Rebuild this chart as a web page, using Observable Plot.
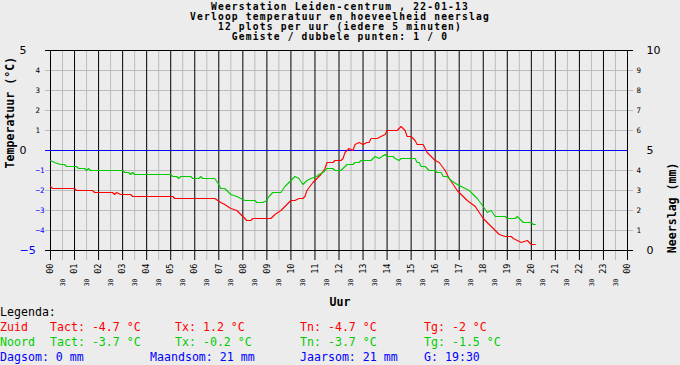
<!DOCTYPE html>
<html>
<head>
<meta charset="utf-8">
<script src="https://cdn.jsdelivr.net/npm/d3@7"></script>
<script src="https://cdn.jsdelivr.net/npm/@observablehq/plot@0.6"></script>
<style>
  html, body { margin: 0; padding: 0; background: #ececec; }
  #wrap { position: relative; width: 680px; height: 365px; overflow: hidden; background: #ececec; }
  #wrap svg { position: absolute; left: 0; top: 0; }
  .t { position: absolute; white-space: pre; font-family: "DejaVu Sans Mono", monospace; }
  .tl { position: absolute; left: 0; width: 680px; text-align: center; white-space: pre;
        font: bold 9.6px/10px "DejaVu Sans Mono", monospace; letter-spacing: 1.2px; color: #000; height: 10px; }
  .leg { font-size: 11.6px; line-height: 14px; height: 14px; }
</style>
</head>
<body>
<div id="wrap"></div>
<script>
// ---- Data ----
const titleLines = [
  "Weerstation Leiden-centrum , 22-01-13",
  "Verloop temperatuur en hoeveelheid neerslag",
  "12 plots per uur (iedere 5 minuten)",
  "Gemiste / dubbele punten: 1 / 0"
];
const hourLabels = ["00","01","02","03","04","05","06","07","08","09","10","11","12",
                    "13","14","15","16","17","18","19","20","21","22","23","00"];
const halfLabel = "30";
const tempTicks = [5, 4, 3, 2, 1, 0, -1, -2, -3, -4, -5];
const rainTicks = [10, 9, 8, 7, 6, 5, 4, 3, 2, 1, 0];

// Zuid (red) – minutes since midnight / temperature °C
const zuidMin = [0,5,60,65,105,110,155,160,165,175,200,205,305,310,410,425,435,450,465,480,490,500,505,550,560,575,585,600,610,620,630,635,640,655,665,675,685,690,705,710,725,730,735,745,755,760,770,780,790,795,800,815,825,835,840,865,875,885,890,900,910,915,930,940,950,960,970,985,995,1005,1015,1030,1040,1060,1080,1100,1120,1135,1150,1155,1175,1190,1200,1210];
const zuidTemp = [-1.8,-1.9,-1.9,-2.0,-2.0,-2.1,-2.1,-2.2,-2.1,-2.2,-2.2,-2.3,-2.3,-2.4,-2.4,-2.6,-2.7,-2.9,-3.0,-3.3,-3.5,-3.5,-3.4,-3.4,-3.2,-3.0,-2.8,-2.5,-2.5,-2.4,-2.4,-2.3,-2.0,-1.6,-1.4,-1.2,-0.9,-0.6,-0.6,-0.5,-0.5,-0.4,-0.1,0.1,0.0,0.3,0.4,0.3,0.4,0.4,0.6,0.6,0.7,0.8,1.0,1.0,1.2,1.0,0.7,0.7,0.5,0.3,0.3,-0.1,-0.3,-0.5,-0.6,-1.0,-1.4,-1.7,-2.0,-2.3,-2.5,-2.8,-3.4,-3.8,-4.2,-4.3,-4.3,-4.4,-4.6,-4.5,-4.7,-4.7];

// Noord (green)
const noordMin = [0,10,25,35,40,65,70,85,90,95,100,180,185,195,200,205,210,300,305,315,320,325,350,355,370,375,380,410,420,425,435,440,450,465,475,485,510,515,530,540,545,555,575,585,595,610,620,630,640,650,665,670,680,690,705,710,725,730,740,755,760,770,775,800,810,820,835,840,855,860,870,875,910,915,920,925,935,945,960,965,975,980,990,1000,1015,1025,1035,1045,1065,1080,1090,1100,1110,1135,1140,1160,1165,1170,1180,1200,1205,1210];
const noordTemp = [-0.5,-0.6,-0.7,-0.7,-0.8,-0.8,-0.9,-0.9,-1.0,-0.9,-1.0,-1.0,-1.1,-1.1,-1.2,-1.1,-1.2,-1.2,-1.3,-1.3,-1.4,-1.3,-1.3,-1.4,-1.4,-1.3,-1.4,-1.4,-1.7,-1.9,-1.9,-2.0,-2.2,-2.3,-2.4,-2.5,-2.5,-2.6,-2.6,-2.5,-2.3,-2.1,-2.1,-1.8,-1.6,-1.3,-1.4,-1.7,-1.5,-1.4,-1.3,-1.2,-1.1,-0.9,-0.9,-1.0,-1.0,-0.9,-0.7,-0.7,-0.6,-0.6,-0.5,-0.5,-0.3,-0.4,-0.2,-0.3,-0.3,-0.4,-0.5,-0.4,-0.4,-0.6,-0.6,-0.8,-0.8,-1.0,-1.0,-1.1,-1.1,-1.3,-1.3,-1.5,-1.7,-1.8,-1.9,-2.0,-2.4,-2.8,-3.1,-3.0,-3.3,-3.3,-3.4,-3.4,-3.3,-3.4,-3.6,-3.6,-3.7,-3.7];

// Legend
const stations = ["Zuid", "Noord"];
const tact = ["-4.7", "-3.7"];
const tx = ["1.2", "-0.2"];
const tn = ["-4.7", "-3.7"];
const tg = ["-2", "-1.5"];
const totals = ["Dagsom: 0 mm", "Maandsom: 21 mm", "Jaarsom: 21 mm", "G: 19:30"];

// ---- Build ----
const RED = "#ff0000", GREEN = "#00cc00", BLUE = "#0000ff", GRID = "#bcbcbc";
const zuid = zuidMin.map((m, i) => ({m, t: zuidTemp[i]}));
const noord = noordMin.map((m, i) => ({m, t: noordTemp[i]}));
const hours = hourLabels.map((l, i) => ({h: i * 60, l}));
const halves = d3.range(0, 24).map(i => ({h: i * 60 + 30, l: halfLabel}));
const mono = "DejaVu Sans Mono";
const big = d => Math.abs(d) === 5 || d === 0;
const bigR = d => d === 10 || d === 5 || d === 0;

const chart = Plot.plot({
  width: 680, height: 365,
  marginLeft: 50, marginRight: 53, marginTop: 50, marginBottom: 115,
  x: {domain: [0, 1440], axis: null},
  y: {domain: [-5, 5], axis: null},
  color: {type: "identity"},
  style: {background: "transparent", overflow: "visible"},
  marks: [
    Plot.ruleY(tempTicks.filter(d => !big(d)), {y: d => d, stroke: GRID, insetLeft: -5, insetRight: -6}),
    Plot.ruleX(halves, {x: "h", stroke: GRID, insetBottom: -10}),
    Plot.ruleX(hours, {x: "h", stroke: "#000", insetBottom: -10}),
    Plot.ruleY([5, -5], {y: d => d, stroke: "#000", insetLeft: -5, insetRight: -6}),
    Plot.ruleY([0], {y: d => d, stroke: BLUE, insetLeft: -5}),
    Plot.line(zuid, {x: "m", y: "t", stroke: RED, strokeWidth: 1.1}),
    Plot.line(noord, {x: "m", y: "t", stroke: GREEN, strokeWidth: 1.1}),
    Plot.text(tempTicks.filter(d => !big(d)), {y: d => d, text: d => String(d).replace("-", "\u2212"),
      frameAnchor: "left", dx: -15, textAnchor: "start", fontFamily: mono, fontSize: 7.5,
      fill: d => d < 0 ? BLUE : "#000"}),
    Plot.text(tempTicks.filter(big), {y: d => d, text: d => String(d).replace("-", "\u2212"),
      frameAnchor: "left", dx: -31, textAnchor: "start", fontFamily: "DejaVu Sans", fontSize: 11,
      fill: d => d < 0 ? BLUE : "#000"}),
    Plot.text(rainTicks.filter(d => !bigR(d)), {y: d => d - 5, text: d => String(d),
      frameAnchor: "right", dx: 9, textAnchor: "start", fontFamily: mono, fontSize: 7.5, fill: "#000"}),
    Plot.text(rainTicks.filter(bigR), {y: d => d - 5, text: d => String(d),
      frameAnchor: "right", dx: 19, textAnchor: "start", fontFamily: "DejaVu Sans", fontSize: 11, fill: "#000"}),
    Plot.text(hours, {x: "h", text: "l", frameAnchor: "bottom", dy: 13, rotate: -90,
      textAnchor: "end", lineAnchor: "middle", fontFamily: mono, fontSize: 8.5, fill: "#000"}),
    Plot.text(halves, {x: "h", text: "l", frameAnchor: "bottom", dy: 28, rotate: -90,
      textAnchor: "end", lineAnchor: "middle", fontFamily: mono, fontSize: 6.5, fill: "#000"}),
    Plot.text(["Uur"], {frameAnchor: "bottom", dx: 1, dy: 55, lineAnchor: "bottom",
      fontFamily: mono, fontWeight: "bold", fontSize: 11.6, fill: "#000"}),
    Plot.text(["Temperatuur (\u00b0C)"], {frameAnchor: "left", dx: -37, dy: 18, rotate: -90,
      lineAnchor: "bottom", fontFamily: mono, fontWeight: "bold", fontSize: 11.6, fill: "#000"}),
    Plot.text(["Neerslag (mm)"], {frameAnchor: "right", dx: 48, dy: 12, rotate: -90,
      lineAnchor: "bottom", fontFamily: mono, fontWeight: "bold", fontSize: 11.6, fill: "#000"})
  ]
});

const wrap = document.getElementById("wrap");
wrap.appendChild(chart);

// Title, one line each
titleLines.forEach((s, i) => {
  const el = document.createElement("div");
  el.className = "tl";
  el.textContent = s;
  el.style.top = (2 + i * 10) + "px";
  wrap.appendChild(el);
});

// Legend
function put(text, x, y, color) {
  const el = document.createElement("div");
  el.className = "t leg";
  el.textContent = text;
  el.style.left = x + "px";
  el.style.top = y + "px";
  el.style.color = color;
  wrap.appendChild(el);
}
put("Legenda:", 0, 305, "#000");
const colors = [RED, GREEN];
stations.forEach((s, i) => {
  const y = 320 + i * 15;
  put(s, 0, y, colors[i]);
  put(`Tact: ${tact[i]} \u00b0C`, 50, y, colors[i]);
  put(`Tx: ${tx[i]} \u00b0C`, 175, y, colors[i]);
  put(`Tn: ${tn[i]} \u00b0C`, 300, y, colors[i]);
  put(`Tg: ${tg[i]} \u00b0C`, 424, y, colors[i]);
});
const totX = [0, 150, 300, 424];
totals.forEach((s, i) => put(s, totX[i], 350, BLUE));
</script>
</body>
</html>
